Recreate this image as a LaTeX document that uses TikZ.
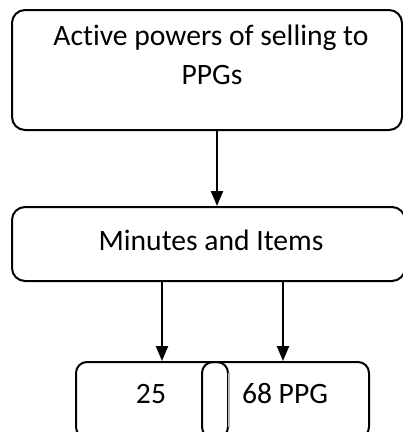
\documentclass[tikz,border=0pt]{standalone}
\usepackage{fontspec}
\setmainfont{Carlito}[Ligatures=NoCommon]
\usetikzlibrary{arrows.meta}
\begin{document}
\begin{tikzpicture}[x=1pt,y=-1pt,
  box/.style={draw=black, line width=2pt, rounded corners=13pt, inner sep=0pt},
  txt/.style={anchor=base, inner sep=0pt, font=\fontsize{29.6}{35}\selectfont},
  arr/.style={line width=2.2pt, -{Triangle[width=12pt,length=15pt]}}]
\useasboundingbox (0,0) rectangle (403,432);
\clip (0,0) rectangle (403,432);
\node[box, minimum width=390pt, minimum height=120pt] (top) at (207,70) {};
\node[txt] (t1) at (211,45) {Active powers of selling to};
\node[txt] (t2) at (212,84) {PPGs};
\node[box, minimum width=393pt, minimum height=74pt] (mid) at (208.5,244) {};
\node[txt] (m1) at (211,250) {Minutes and Items};
\node[box, rounded corners=11pt, minimum width=152pt, minimum height=76pt] (lb) at (152,400) {};
\draw[gray!55, line width=1.6pt] ([yshift=-12pt]lb.north east) -- ([yshift=12pt]lb.south east);
\node[box, rounded corners=11pt, minimum width=167pt, minimum height=76pt] (rb) at (285.5,400) {};
\node[txt] (b1) at (151,403) {25};
\node[txt] (b2) at (285,403) {68 PPG};
\draw[arr] ([xshift=10pt]top.south) -- ([xshift=8.5pt]mid.north);
\draw[arr] ([xshift=-46.5pt]mid.south) -- ([xshift=10pt]lb.north);
\draw[arr] ([xshift=74.5pt]mid.south) -- ([xshift=-2.5pt]rb.north);
\end{tikzpicture}
\end{document}
